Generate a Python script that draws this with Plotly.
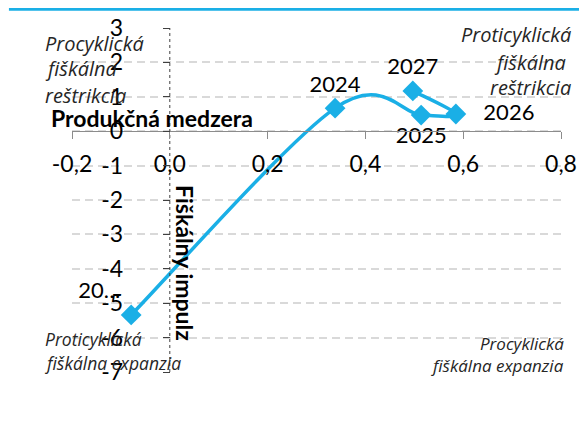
import plotly.graph_objects as go

# Data
years = ["20…", "2024", "2025", "2026", "2027"]
output_gap = [-0.079, 0.338, 0.514, 0.585, 0.497]
fiscal_impulse = [-5.34, 0.67, 0.47, 0.50, 1.17]
label_pos = ["top left", "top center", "bottom center", "middle right", "top center"]

x_tickvals = [-0.2, 0.0, 0.2, 0.4, 0.6, 0.8]
x_ticktext = ["-0,2", "0,0", "0,2", "0,4", "0,6", "0,8"]
y_tickvals = [3, 2, 1, 0, -1, -2, -3, -4, -5, -6, -7]
y_ticktext = ["3", "2", "1", "0", "-1", "-2", "-3", "-4", "-5", "-6", "-7"]

BLUE = "#1AAFE6"
FONT = "Lato"
IFONT = "Open Sans"

# smoothed line (Excel-style Catmull-Rom -> cubic Bezier), built from the data
pts = list(zip(output_gap, fiscal_impulse))
n = len(pts)
path = "M %g,%g" % pts[0]
for i in range(n - 1):
    p0 = pts[i - 1] if i > 0 else pts[i]
    p1 = pts[i]
    p2 = pts[i + 1]
    p3 = pts[i + 2] if i + 2 < n else pts[i + 1]
    c1 = (p1[0] + (p2[0] - p0[0]) / 6, p1[1] + (p2[1] - p0[1]) / 6)
    c2 = (p2[0] - (p3[0] - p1[0]) / 6, p2[1] - (p3[1] - p1[1]) / 6)
    path += " C %g,%g %g,%g %g,%g" % (c1[0], c1[1], c2[0], c2[1], p2[0], p2[1])

fig = go.Figure()
fig.add_shape(type="path", xref="x", yref="y", path=path,
              line=dict(color=BLUE, width=3.5), layer="between")
fig.add_trace(go.Scatter(
    x=output_gap, y=fiscal_impulse, mode="markers+text",
    text=[("\u2003" + t if p == "middle right" else t) for t, p in zip(years, label_pos)],
    textposition=label_pos,
    textfont=dict(family=FONT, size=22, color="#000000"),
    marker=dict(symbol="diamond", size=16, color=BLUE),
    cliponaxis=False, showlegend=False,
))

# dotted vertical y-axis line at x=0
fig.add_shape(type="line", xref="x", yref="y", x0=0, x1=0, y0=-7, y1=3,
              line=dict(color="#404040", width=1, dash="dot"), layer="between")
# top blue rule
fig.add_shape(type="line", xref="paper", yref="paper", x0=-0.129, x1=1.06,
              y0=1.055, y1=1.055, line=dict(color=BLUE, width=3.5))

annos = []
annos.append(dict(xref="x", yref="y", x=-0.036, y=0.384, text="<b>Produkčná medzera</b>",
                  showarrow=False, font=dict(family=FONT, size=23, color="#000")))
annos.append(dict(xref="x", yref="y", x=0.031, y=-3.83, text="<b>Fiškálny impulz</b>",
                  showarrow=False, textangle=90, font=dict(family=FONT, size=23, color="#000")))

def qlab(x, y, t, anchor, size):
    annos.append(dict(xref="paper", yref="paper", x=x, y=y, text="<i>" + t + "</i>",
                      showarrow=False, xanchor=anchor, yanchor="middle",
                      font=dict(family=IFONT, size=size, color="#262626")))

qlab(-0.0593, 0.956, "Procyklická", "left", 20)
qlab(-0.0593, 0.881, "fiškálna", "left", 20)
qlab(-0.0593, 0.805, "reštrikcia", "left", 20)
qlab(1.0245, 0.980, "Proticyklická", "right", 20)
qlab(1.0143, 0.901, "fiškálna", "right", 20)
qlab(1.0245, 0.828, "reštrikcia", "right", 20)
qlab(-0.0593, 0.096, "Proticyklická", "left", 17.5)
qlab(-0.0593, 0.026, "fiškálna expanzia", "left", 17.5)
qlab(1.0102, 0.084, "Procyklická", "right", 17)
qlab(1.0102, 0.020, "fiškálna expanzia", "right", 17)

fig.update_layout(
    width=579, height=417,
    margin=dict(l=64, r=26, t=20, b=53),
    paper_bgcolor="white", plot_bgcolor="white",
    font=dict(family=FONT, size=22, color="#000"),
    annotations=annos,
    xaxis=dict(range=[-0.2, 0.8], tickvals=x_tickvals, ticktext=x_ticktext,
               anchor="free", position=0.7, showgrid=False, zeroline=False,
               showline=True, linecolor="#8C8C8C", linewidth=1,
               ticks="outside", ticklen=7, tickcolor="#8C8C8C",
               ticklabelstandoff=5,
               tickfont=dict(family=FONT, size=23, color="#000"), automargin=False),
    yaxis=dict(range=[-7, 3], tickvals=y_tickvals, ticktext=y_ticktext,
               anchor="free", position=0.2, showgrid=True, gridcolor="#D9D9D9",
               gridwidth=1.5, griddash="8px,5px", zeroline=False, showline=False,
               ticks="outside", ticklen=7, tickcolor="#404040",
               ticklabelstandoff=35,
               tickfont=dict(family=FONT, size=23, color="#000"), automargin=False),
)

fig.write_html("out.html")
